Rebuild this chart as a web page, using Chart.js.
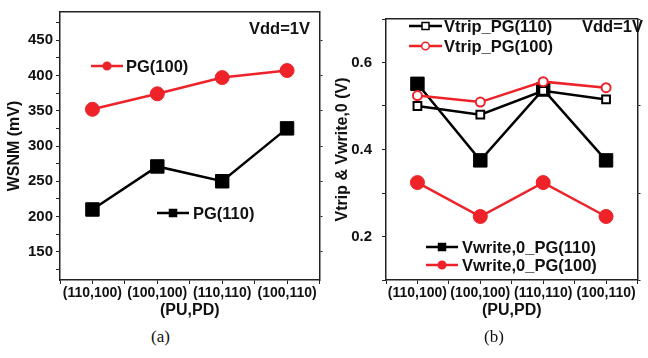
<!DOCTYPE html>
<html>
<head>
<meta charset="utf-8">
<script src="https://cdn.jsdelivr.net/npm/chart.js@4.4.0/dist/chart.umd.min.js"></script>
<style>
  body { margin: 0; background: #fff; width: 648px; height: 358px; position: relative; overflow: hidden; }
  .box { position: absolute; top: 0; }
  .cap { position: absolute; top: 327px; font: 17px "Liberation Serif", serif; color: #111; }
</style>
</head>
<body>
<div class="box" style="left:0;width:330px;height:320px"><canvas id="chartA"></canvas></div>
<div class="box" style="left:328px;width:320px;height:320px"><canvas id="chartB"></canvas></div>
<div class="cap" style="left:151px">(a)</div>
<div class="cap" style="left:484px">(b)</div>
<script>
// categories (PU,PD)
const categories = ['(110,100)', '(100,100)', '(110,110)', '(100,110)'];

// (a) WSNM, mV
const wsnmPG100 = [352, 374, 397, 407];
const wsnmPG110 = [210, 271, 250, 325];

// (b) Vtrip & Vwrite,0, V
const vtripPG110 = [0.500, 0.480, 0.535, 0.515];
const vtripPG100 = [0.524, 0.509, 0.556, 0.542];
const vwritePG110 = [0.551, 0.375, 0.538, 0.375];
const vwritePG100 = [0.324, 0.246, 0.324, 0.246];

const RED = '#ee2229';
const BLACK = '#000';
const FONT = 'Liberation Sans, Arial, sans-serif';

function pts(arr) {
    return arr.map(function (v, i) { return { x: i, y: v }; });
}

// legend entries drawn inside the plot, like the original figure
const legendPlugin = {
    id: 'inlineLegend',
    afterDraw: function (chart, args, opts) {
        const ctx = chart.ctx;
        ctx.save();
        ctx.font = 'bold 16.5px ' + FONT;
        ctx.textBaseline = 'middle';
        (opts.items || []).forEach(function (it) {
            if (it.x1 !== undefined) {
                ctx.strokeStyle = it.color;
                ctx.lineWidth = 2.5;
                ctx.beginPath();
                ctx.moveTo(it.x1, it.y);
                ctx.lineTo(it.x2, it.y);
                ctx.stroke();
                const mx = (it.x1 + it.x2) / 2;
                ctx.fillStyle = it.open ? '#fff' : it.color;
                ctx.lineWidth = 1.5;
                ctx.beginPath();
                if (it.shape === 'rect') {
                    ctx.rect(mx - 3.5, it.y - 3.5, 7, 7);
                } else {
                    ctx.arc(mx, it.y, 3.8, 0, Math.PI * 2);
                }
                ctx.fill();
                ctx.stroke();
            }
            ctx.fillStyle = '#111';
            ctx.fillText(it.text, it.tx, it.y + 1);
        });
        ctx.restore();
    }
};

function fixSize(prop, size) {
    return function (scale) { scale[prop] = size; };
}

function buildScales(cfg) {
    const tickFont = { family: FONT, size: 14, weight: 'bold' };
    const yTickFont = { family: FONT, size: 15, weight: 'bold' };
    const titleFont = { family: FONT, size: 16, weight: 'bold' };
    return {
        x: {
            type: 'linear', position: 'bottom', min: -0.5, max: 3.5,
            afterFit: fixSize('height', 40),
            border: { display: true, color: '#222', width: 1.5 },
            grid: { drawOnChartArea: false, tickLength: 4, color: '#222', tickWidth: 1 },
            ticks: {
                stepSize: 0.5, autoSkip: false, maxRotation: 0, padding: 1, maxTicksLimit: 100,
                color: '#111', font: tickFont,
                callback: function (v) { return Number.isInteger(v) ? categories[v] : ''; }
            },
            title: { display: true, text: '(PU,PD)', color: '#111', font: titleFont, padding: { top: 0, bottom: 0 } }
        },
        x2: {
            type: 'linear', position: 'top', min: -0.5, max: 3.5,
            afterFit: fixSize('height', cfg.top),
            border: { display: true, color: '#222', width: 1.5 },
            grid: { display: false },
            ticks: { display: false }
        },
        y: {
            type: 'linear', position: 'left', min: cfg.min, max: cfg.max,
            afterFit: fixSize('width', cfg.left),
            border: { display: true, color: '#222', width: 1.5 },
            grid: { drawOnChartArea: false, tickLength: 4, color: '#222', tickWidth: 1 },
            ticks: {
                stepSize: cfg.step, includeBounds: false, padding: cfg.pad, maxTicksLimit: 100,
                autoSkip: false, color: '#111', font: yTickFont, callback: cfg.label
            },
            title: { display: true, text: cfg.title, color: '#111', font: titleFont, padding: { top: 5, bottom: 0 } }
        },
        y2: {
            type: 'linear', position: 'right', min: cfg.min, max: cfg.max,
            afterFit: fixSize('width', cfg.right),
            border: { display: true, color: '#222', width: 1.5 },
            grid: { drawOnChartArea: false, tickLength: 3, color: '#222' },
            ticks: { display: false, stepSize: cfg.step * 2, includeBounds: false, maxTicksLimit: 100 }
        }
    };
}

function lineSet(label, data, color, style, radius, open) {
    return {
        label: label,
        data: pts(data),
        borderColor: color,
        borderWidth: 2.5,
        pointStyle: style,
        pointRadius: radius,
        pointHoverRadius: radius,
        pointBackgroundColor: open ? '#fff' : color,
        pointBorderColor: color,
        pointBorderWidth: open ? 2 : 1,
        xAxisID: 'x',
        yAxisID: 'y'
    };
}

const commonOpts = {
    responsive: true,
    maintainAspectRatio: false,
    animation: false,
    layout: { padding: 0 },
    events: []
};

new Chart(document.getElementById('chartA'), {
    type: 'line',
    data: {
        datasets: [
            lineSet('PG(100)', wsnmPG100, RED, 'circle', 7, false),
            lineSet('PG(110)', wsnmPG110, BLACK, 'rect', 9.5, false)
        ]
    },
    options: Object.assign({}, commonOpts, {
        scales: buildScales({
            min: 110, max: 490, step: 25, left: 60, right: 6, top: 8, pad: 3,
            title: 'WSNM (mV)',
            label: function (v) { return v % 50 === 0 ? v : ''; }
        }),
        plugins: {
            legend: { display: false },
            tooltip: { enabled: false },
            inlineLegend: {
                items: [
                    { text: 'PG(100)', x1: 91, x2: 123, y: 66, tx: 126, color: RED, shape: 'circle' },
                    { text: 'PG(110)', x1: 157, x2: 189, y: 213, tx: 193, color: BLACK, shape: 'rect' },
                    { text: 'Vdd=1V', tx: 249, y: 28 }
                ]
            }
        }
    }),
    plugins: [legendPlugin]
});

new Chart(document.getElementById('chartB'), {
    type: 'line',
    data: {
        datasets: [
            lineSet('Vtrip_PG(100)', vtripPG100, RED, 'circle', 4.5, true),
            lineSet('Vtrip_PG(110)', vtripPG110, BLACK, 'rect', 5.5, true),
            lineSet('Vwrite,0_PG(110)', vwritePG110, BLACK, 'rect', 9.5, false),
            lineSet('Vwrite,0_PG(100)', vwritePG100, RED, 'circle', 7, false)
        ]
    },
    options: Object.assign({}, commonOpts, {
        scales: buildScales({
            min: 0.1, max: 0.7, step: 0.1, left: 58, right: 1, top: 5, pad: 10,
            title: 'Vtrip & Vwrite,0 (V)',
            label: function (v) {
                const k = Math.round(v * 10);
                return k % 2 === 0 ? (k / 10).toFixed(1) : '';
            }
        }),
        plugins: {
            legend: { display: false },
            tooltip: { enabled: false },
            inlineLegend: {
                items: [
                    { text: 'Vtrip_PG(110)', x1: 81, x2: 114, y: 26, tx: 116, color: BLACK, shape: 'rect', open: true },
                    { text: 'Vtrip_PG(100)', x1: 81, x2: 114, y: 46, tx: 116, color: RED, shape: 'circle', open: true },
                    { text: 'Vdd=1V', tx: 254, y: 26 },
                    { text: 'Vwrite,0_PG(110)', x1: 98, x2: 130, y: 247, tx: 134, color: BLACK, shape: 'rect' },
                    { text: 'Vwrite,0_PG(100)', x1: 98, x2: 130, y: 265, tx: 134, color: RED, shape: 'circle' }
                ]
            }
        }
    }),
    plugins: [legendPlugin]
});
</script>
</body>
</html>
